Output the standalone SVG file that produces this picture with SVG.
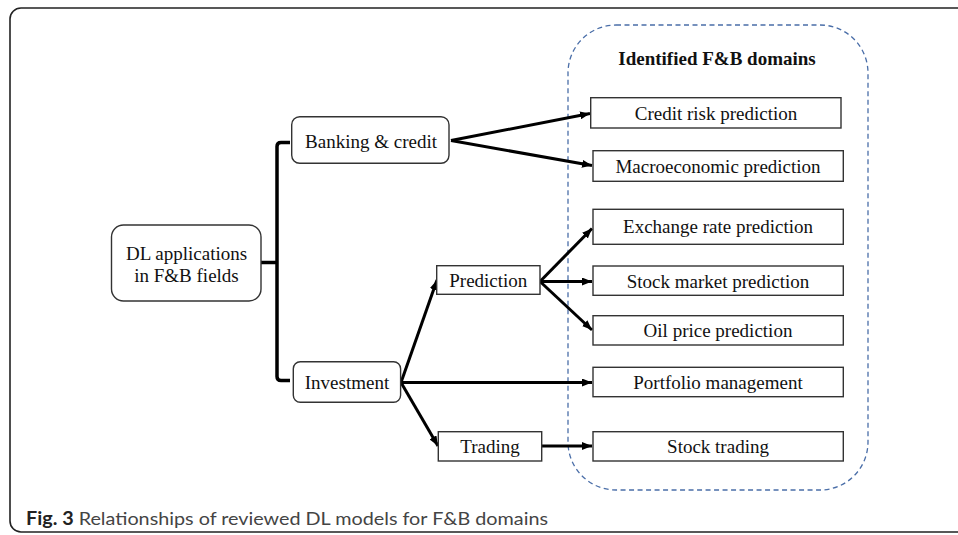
<svg xmlns="http://www.w3.org/2000/svg" width="958" height="535" viewBox="0 0 958 535">
<defs>
<marker id="ah" markerWidth="10" markerHeight="8" refX="10" refY="4" orient="auto" markerUnits="userSpaceOnUse">
<path d="M0,0 L10,4 L0,8 Z" fill="#000"/>
</marker>
<style>
.node rect{fill:#fff;stroke:#333;stroke-width:1.4}
.t{font-family:"Liberation Serif","Times New Roman",serif;font-size:19px;fill:#111;text-anchor:middle}
.tb{font-family:"Liberation Serif","Times New Roman",serif;font-size:19px;font-weight:bold;fill:#111;text-anchor:middle}
.c line{stroke:#000;stroke-width:3;marker-end:url(#ah)}
.br{fill:none;stroke:#000;stroke-width:3.5;stroke-linejoin:round}
</style>
</defs>
<rect x="0" y="0" width="958" height="535" fill="#fff"/>
<rect x="10" y="8" width="980" height="524" rx="11" fill="none" stroke="#222" stroke-width="1.6"/>
<rect id="domains" x="568" y="25" width="300" height="465" rx="48" fill="none" stroke="#4a6ea8" stroke-width="1.3" stroke-dasharray="5,3.5"/>
<text class="tb" x="717" y="65">Identified F&amp;B domains</text>

<g id="connectors">
<path class="br" d="M290,142.5 L281,142.5 Q277,142.5 277,146.5 L277,376.5 Q277,380.5 281,380.5 L290,380.5"/>
<path class="br" d="M261,262.5 L277,262.5"/>
<g class="c">
<line x1="451" y1="140.5" x2="590" y2="113.5"/>
<line x1="451" y1="140.5" x2="592" y2="165.5"/>
<line x1="540" y1="281.5" x2="592" y2="228.5"/>
<line x1="540" y1="281.5" x2="592" y2="281.5"/>
<line x1="540" y1="281.5" x2="592" y2="330"/>
<line x1="401" y1="382.5" x2="437" y2="280"/>
<line x1="401" y1="382.5" x2="592" y2="382.5"/>
<line x1="401" y1="382.5" x2="438" y2="446"/>
<line x1="542" y1="446" x2="592" y2="446"/>
</g>
</g>

<g id="n-dl" class="node"><rect x="111.5" y="225" width="149.5" height="76" rx="12"/><text class="t" x="186.5" y="260">DL applications</text><text class="t" x="186.5" y="282">in F&amp;B fields</text></g>
<g id="n-banking" class="node"><rect x="291.7" y="116.7" width="157.3" height="46.6" rx="8"/><text class="t" x="371" y="147.5">Banking &amp; credit</text></g>
<g id="n-investment" class="node"><rect x="293.3" y="361.7" width="107.3" height="40.6" rx="7"/><text class="t" x="347" y="389.3">Investment</text></g>
<g id="n-prediction" class="node"><rect x="436.7" y="265.7" width="103.3" height="28.6"/><text class="t" x="488.3" y="287">Prediction</text></g>
<g id="n-trading" class="node"><rect x="438.3" y="431.7" width="103.4" height="29.3"/><text class="t" x="490" y="453.3">Trading</text></g>

<g id="d-credit" class="node"><rect x="590.7" y="97.7" width="250.3" height="30.3"/><text class="t" x="716" y="119.5">Credit risk prediction</text></g>
<g id="d-macro" class="node"><rect x="593" y="150.7" width="250.3" height="30.6"/><text class="t" x="718" y="172.7">Macroeconomic prediction</text></g>
<g id="d-exchange" class="node"><rect x="593" y="209.3" width="250.3" height="35"/><text class="t" x="718" y="233.3">Exchange rate prediction</text></g>
<g id="d-stock" class="node"><rect x="593" y="266" width="250.3" height="29.3"/><text class="t" x="718" y="287.7">Stock market prediction</text></g>
<g id="d-oil" class="node"><rect x="593" y="315.7" width="250.3" height="29.3"/><text class="t" x="718" y="337.3">Oil price prediction</text></g>
<g id="d-portfolio" class="node"><rect x="593" y="367.3" width="250.3" height="29.4"/><text class="t" x="718" y="389">Portfolio management</text></g>
<g id="d-stocktrading" class="node"><rect x="593" y="431.7" width="250.3" height="29.3"/><text class="t" x="718" y="453.3">Stock trading</text></g>

<text x="26" y="525" font-family="Lato,'Open Sans',sans-serif" font-size="18" fill="#444" textLength="522" lengthAdjust="spacingAndGlyphs"><tspan font-weight="bold" fill="#222">Fig. 3</tspan> Relationships of reviewed DL models for F&amp;B domains</text>
</svg>
